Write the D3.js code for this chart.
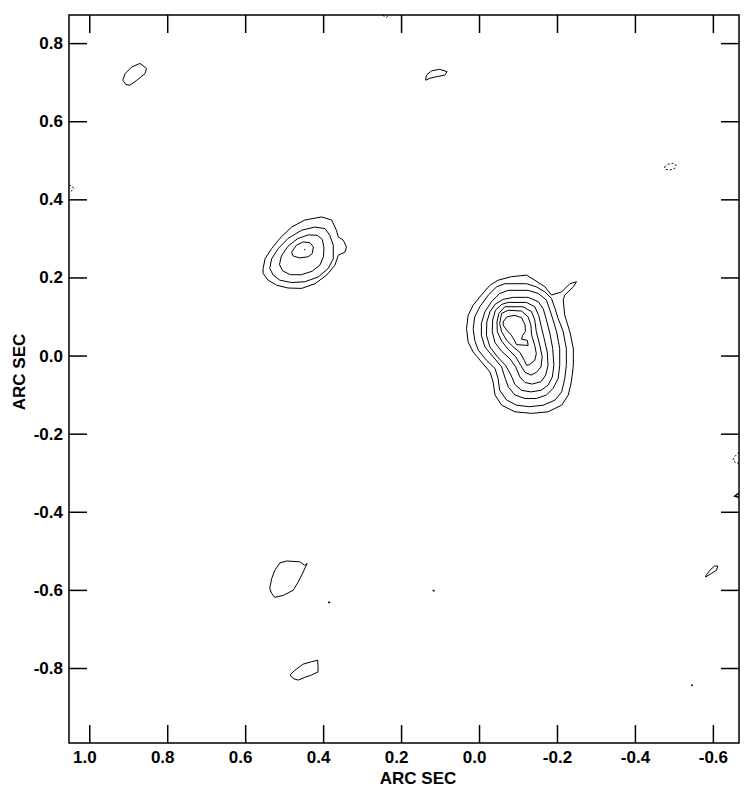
<!DOCTYPE html>
<html>
<meta charset="utf-8">
<title>ARC SEC contour map</title>
<style>
body { margin: 0; background: #fff; }
text { font-family: "Liberation Sans", Arial, sans-serif; font-weight: bold; }
</style>
<body>
<div id="chart"></div>
<script src="https://cdn.jsdelivr.net/npm/d3@7"></script>
<script>
// axis ticks (arc sec)
var xTicks = [1.0, 0.8, 0.6, 0.4, 0.2, 0.0, -0.2, -0.4, -0.6];
var yTicks = [0.8, 0.6, 0.4, 0.2, 0.0, -0.2, -0.4, -0.6, -0.8];

// main source, outer -> inner contour, [ra offset, dec offset] in arc sec
var coreContours = [
  [[-0.049,0.193],[-0.083,0.202],[-0.122,0.206],[-0.143,0.193],[-0.169,0.176],[-0.186,0.155],[-0.212,0.163],[-0.233,0.184],[-0.250,0.189],[-0.242,0.176],[-0.220,0.155],[-0.216,0.142],[-0.220,0.103],[-0.233,0.061],[-0.242,0.018],[-0.242,-0.025],[-0.237,-0.067],[-0.229,-0.101],[-0.212,-0.127],[-0.177,-0.144],[-0.135,-0.148],[-0.092,-0.144],[-0.058,-0.127],[-0.041,-0.101],[-0.036,-0.067],[-0.028,-0.042],[-0.006,-0.016],[0.015,0.009],[0.028,0.035],[0.032,0.069],[0.028,0.103],[0.015,0.129],[-0.006,0.155],[-0.028,0.180]],
  [[-0.045,0.176],[-0.066,0.184],[-0.122,0.184],[-0.147,0.176],[-0.169,0.163],[-0.186,0.146],[-0.195,0.120],[-0.203,0.095],[-0.216,0.061],[-0.224,0.018],[-0.224,-0.025],[-0.220,-0.059],[-0.212,-0.093],[-0.195,-0.114],[-0.165,-0.127],[-0.130,-0.131],[-0.096,-0.127],[-0.071,-0.114],[-0.053,-0.089],[-0.049,-0.059],[-0.041,-0.033],[-0.019,-0.012],[0.002,0.014],[0.011,0.039],[0.015,0.069],[0.011,0.099],[-0.002,0.125],[-0.024,0.155]],
  [[-0.053,0.159],[-0.075,0.167],[-0.126,0.167],[-0.152,0.159],[-0.173,0.142],[-0.182,0.116],[-0.190,0.091],[-0.199,0.061],[-0.207,0.018],[-0.207,-0.025],[-0.203,-0.059],[-0.190,-0.084],[-0.173,-0.101],[-0.147,-0.110],[-0.118,-0.110],[-0.092,-0.101],[-0.075,-0.080],[-0.066,-0.055],[-0.058,-0.029],[-0.036,-0.003],[-0.015,0.022],[-0.006,0.052],[-0.006,0.082],[-0.015,0.112],[-0.032,0.138]],
  [[-0.042,0.132],[-0.062,0.144],[-0.088,0.149],[-0.126,0.149],[-0.152,0.138],[-0.165,0.119],[-0.173,0.091],[-0.182,0.056],[-0.189,0.018],[-0.192,-0.025],[-0.188,-0.055],[-0.177,-0.076],[-0.159,-0.089],[-0.133,-0.093],[-0.109,-0.089],[-0.092,-0.074],[-0.082,-0.050],[-0.068,-0.025],[-0.047,-0.003],[-0.028,0.022],[-0.019,0.052],[-0.020,0.086],[-0.028,0.112]],
  [[-0.058,0.131],[-0.075,0.136],[-0.122,0.136],[-0.143,0.125],[-0.153,0.103],[-0.160,0.073],[-0.167,0.044],[-0.175,0.009],[-0.177,-0.025],[-0.171,-0.050],[-0.159,-0.067],[-0.136,-0.073],[-0.118,-0.069],[-0.105,-0.055],[-0.094,-0.029],[-0.079,-0.008],[-0.058,0.011],[-0.041,0.033],[-0.034,0.061],[-0.035,0.091],[-0.042,0.116]],
  [[-0.051,0.108],[-0.066,0.125],[-0.113,0.125],[-0.135,0.112],[-0.143,0.091],[-0.147,0.061],[-0.156,0.026],[-0.162,-0.003],[-0.159,-0.029],[-0.147,-0.043],[-0.133,-0.050],[-0.118,-0.043],[-0.107,-0.025],[-0.094,-0.003],[-0.075,0.016],[-0.058,0.037],[-0.047,0.061],[-0.046,0.086]],
  [[-0.053,0.082],[-0.058,0.108],[-0.075,0.116],[-0.109,0.114],[-0.126,0.099],[-0.133,0.078],[-0.135,0.052],[-0.143,0.026],[-0.147,0.005],[-0.143,-0.012],[-0.130,-0.023],[-0.122,-0.025],[-0.116,-0.012],[-0.105,0.008],[-0.088,0.022],[-0.071,0.039],[-0.058,0.061]],
  [[-0.062,0.086],[-0.071,0.099],[-0.092,0.103],[-0.109,0.097],[-0.118,0.079],[-0.119,0.062],[-0.112,0.052],[-0.109,0.042],[-0.124,0.039],[-0.126,0.026],[-0.096,0.028],[-0.092,0.037],[-0.083,0.052],[-0.071,0.065],[-0.062,0.078]]
];

// north-east component, outer -> inner
var neContours = [
  [[0.554,0.223],[0.549,0.248],[0.532,0.274],[0.511,0.300],[0.481,0.329],[0.447,0.347],[0.404,0.355],[0.378,0.347],[0.366,0.321],[0.361,0.304],[0.348,0.295],[0.340,0.278],[0.344,0.265],[0.361,0.257],[0.370,0.231],[0.391,0.206],[0.421,0.184],[0.455,0.172],[0.490,0.173],[0.519,0.180],[0.541,0.193],[0.554,0.210]],
  [[0.537,0.223],[0.532,0.248],[0.515,0.274],[0.490,0.300],[0.455,0.321],[0.421,0.329],[0.395,0.325],[0.383,0.308],[0.374,0.283],[0.374,0.248],[0.387,0.223],[0.413,0.201],[0.447,0.189],[0.481,0.187],[0.511,0.193],[0.528,0.206]],
  [[0.512,0.233],[0.507,0.255],[0.490,0.280],[0.466,0.299],[0.438,0.309],[0.415,0.308],[0.402,0.297],[0.398,0.277],[0.399,0.253],[0.408,0.232],[0.428,0.216],[0.456,0.207],[0.484,0.207],[0.504,0.217]],
  [[0.481,0.265],[0.468,0.283],[0.451,0.291],[0.434,0.289],[0.425,0.278],[0.428,0.261],[0.438,0.253],[0.460,0.250],[0.477,0.255]]
];

// isolated lowest-level patches (closed)
var patches = [
  [[0.914,0.705],[0.908,0.722],[0.891,0.739],[0.870,0.748],[0.853,0.735],[0.857,0.722],[0.878,0.705],[0.896,0.692],[0.906,0.694]],
  [[0.137,0.705],[0.135,0.718],[0.122,0.729],[0.101,0.733],[0.082,0.727],[0.088,0.718],[0.109,0.714],[0.126,0.710]],
  [[0.511,-0.531],[0.494,-0.526],[0.460,-0.528],[0.447,-0.537],[0.441,-0.532],[0.451,-0.554],[0.464,-0.580],[0.477,-0.601],[0.502,-0.614],[0.524,-0.619],[0.532,-0.609],[0.537,-0.596],[0.532,-0.571],[0.524,-0.550]],
  [[0.485,-0.818],[0.473,-0.806],[0.451,-0.790],[0.430,-0.784],[0.414,-0.780],[0.413,-0.797],[0.413,-0.810],[0.430,-0.818],[0.447,-0.824],[0.464,-0.831],[0.477,-0.827]],
  [[-0.583,-0.562],[-0.592,-0.550],[-0.604,-0.539],[-0.613,-0.539],[-0.609,-0.550],[-0.596,-0.558],[-0.581,-0.567]]
];

// open pieces cut by the frame, and single-pixel peaks
var edgePieces = [
  [[-0.667,-0.352],[-0.656,-0.360],[-0.667,-0.363]],
  [[0.387,-0.631],[0.382,-0.633]],
  [[0.119,-0.601],[0.114,-0.603]],
  [[-0.545,-0.842],[-0.548,-0.846]],
  [[0.448,0.272],[0.446,0.271]]
];

// negative contours (dashed)
var negContours = [
  [[-0.476,0.483],[-0.485,0.490],[-0.497,0.492],[-0.506,0.488],[-0.502,0.479],[-0.489,0.475],[-0.478,0.477],[-0.476,0.483]],
  [[0.246,0.872],[0.243,0.867],[0.237,0.866],[0.233,0.870]],
  [[1.052,0.436],[1.044,0.434],[1.040,0.428],[1.046,0.421],[1.052,0.420]],
  [[-0.667,-0.247],[-0.656,-0.259],[-0.651,-0.268],[-0.660,-0.276],[-0.667,-0.275]]
];

var W = 751, H = 796;
var pL = 69, pR = 739, pT = 15, pB = 743;

var x = d3.scaleLinear().domain([1.052, -0.667]).range([pL, pR]);
var y = d3.scaleLinear().domain([0.872, -0.992]).range([pT, pB]);

var svg = d3.select("#chart").append("svg")
  .attr("width", W).attr("height", H);

svg.append("clipPath").attr("id", "plotclip")
  .append("rect").attr("x", pL).attr("y", pT)
  .attr("width", pR - pL).attr("height", pB - pT);

var fmt = function(d){ return d3.format(".1f")(d).replace("\u2212", "-"); };

var plot = svg.append("g").attr("clip-path", "url(#plotclip)");

var closedLine = d3.line().x(function(d){ return x(d[0]); }).y(function(d){ return y(d[1]); })
  .curve(d3.curveLinearClosed);
var openLine = d3.line().x(function(d){ return x(d[0]); }).y(function(d){ return y(d[1]); });

plot.selectAll("path.core").data(coreContours).enter().append("path")
  .attr("class", "core").attr("d", closedLine)
  .attr("fill", "none").attr("stroke", "#000").attr("stroke-width", 1);

plot.selectAll("path.ne").data(neContours).enter().append("path")
  .attr("class", "ne").attr("d", closedLine)
  .attr("fill", "none").attr("stroke", "#000").attr("stroke-width", 1);

plot.selectAll("path.patch").data(patches).enter().append("path")
  .attr("class", "patch").attr("d", closedLine)
  .attr("fill", "none").attr("stroke", "#000").attr("stroke-width", 1);

plot.selectAll("path.edge").data(edgePieces).enter().append("path")
  .attr("class", "edge").attr("d", openLine)
  .attr("fill", "none").attr("stroke", "#000").attr("stroke-width", 1.5);

plot.selectAll("path.neg").data(negContours).enter().append("path")
  .attr("class", "neg").attr("d", openLine)
  .attr("fill", "none").attr("stroke", "#000").attr("stroke-width", 1)
  .attr("stroke-dasharray", "2,2");

// axes, ticks pointing inward on all four sides
var tick = 18;
var gB = svg.append("g").attr("transform", "translate(0," + pB + ")")
  .call(d3.axisBottom(x).tickValues(xTicks).tickSizeInner(-tick).tickSizeOuter(0).tickPadding(8).tickFormat(fmt));
var gT = svg.append("g").attr("transform", "translate(0," + pT + ")")
  .call(d3.axisTop(x).tickValues(xTicks).tickSizeInner(-tick).tickSizeOuter(0).tickFormat(""));
var gL = svg.append("g").attr("transform", "translate(" + pL + ",0)")
  .call(d3.axisLeft(y).tickValues(yTicks).tickSizeInner(-tick).tickSizeOuter(0).tickPadding(6).tickFormat(fmt));
var gR = svg.append("g").attr("transform", "translate(" + pR + ",0)")
  .call(d3.axisRight(y).tickValues(yTicks).tickSizeInner(-tick).tickSizeOuter(0).tickFormat(""));

[gB, gT, gL, gR].forEach(function(g){
  g.select(".domain").remove();
  g.selectAll(".tick line").attr("stroke", "#000").attr("stroke-width", 1.5);
  g.selectAll(".tick text").attr("fill", "#000")
    .style("font-size", "17px").style("font-weight", "bold");
});
// positive x labels sit slightly left of their ticks in the original
gB.selectAll(".tick text").attr("dx", function(d){ return d >= 0 ? -5 : 0; });

svg.append("rect").attr("x", pL).attr("y", pT)
  .attr("width", pR - pL).attr("height", pB - pT)
  .attr("fill", "none").attr("stroke", "#000").attr("stroke-width", 1.5);

svg.append("text").attr("x", 418).attr("y", 784)
  .attr("text-anchor", "middle").style("font-size", "17px")
  .text("ARC SEC");

svg.append("text")
  .attr("transform", "translate(25," + 372 + ") rotate(-90)")
  .attr("text-anchor", "middle").style("font-size", "17px")
  .text("ARC SEC");
</script>
</body>
</html>
